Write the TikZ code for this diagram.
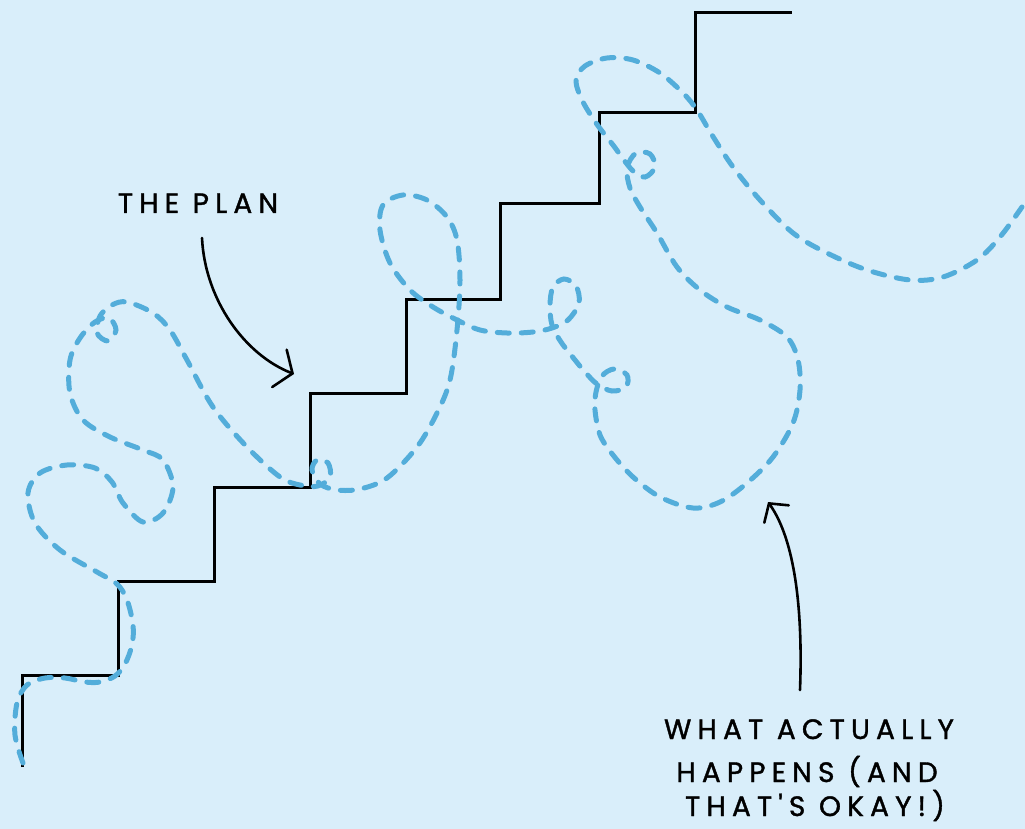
\documentclass[tikz,border=0pt]{standalone}
\usepackage{fontspec}
\newfontfamily\handfont[LetterSpace=22, FakeBold=1.3]{Poppins}
\usetikzlibrary{arrows.meta}
\definecolor{bgblue}{HTML}{D9EEFA}
\definecolor{dashblue}{HTML}{53ADDA}
\tikzset{
  stairline/.style={line width=3pt, black, line join=miter},
  wobble/.style={line width=5pt, dashblue, line cap=round, dash pattern=on 12pt off 12pt},
  pointer/.style={line width=2.6pt, black, line cap=round},
  handtext/.style={font=\handfont\fontsize{28}{38}\selectfont, inner sep=0pt, anchor=base}
}
\begin{document}
\begin{tikzpicture}[x=1pt,y=-1pt]
\useasboundingbox[fill=bgblue] (0,0) rectangle (1025,829);
% the plan: staircase
\draw[stairline] (22,767) |- (118,675) |- (214,581) |- (310,487) |- (406,393) |- (500,299) |- (599,204) |- (695,113) |- (792,13);
% what actually happens
\draw[wobble] plot[smooth, tension=0.55] coordinates {
 (23,763) (15,735) (17,703) (27,685) (45,678) (65,678) (85,682) (100,682) (115,676) (125,664) (132,645) (133,625) (127,600) (117,584)
 (97,572) (60,550) (35,523) (28,493) (40,473) (67,465) (95,468) (112,482) (123,503) (143,522) (163,513) (173,487) (163,460) (143,450)
 (110,437) (83,420) (70,393) (70,360) (80,338) (95,322) (109,318) (116,330) (108,341) (97,333) (100,316) (112,305) (127,302) (153,313) (170,330)
 (187,360) (213,407) (247,447) (280,477) (300,485) (318,486) (330,477) (328,463) (317,460) (312,470) (320,484) (337,490) (360,489)
 (387,478) (417,447) (437,413) (450,380) (457,330) (460,280) (457,240) (447,217) (427,200) (403,195) (383,205) (380,230) (390,263)
 (410,290) (433,307) (457,320) (480,330) (507,333) (533,332) (552,328) (568,320) (579,303) (576,286) (564,279) (553,287) (550,305)
 (552,325) (561,342) (575,360) (585,372) (597,384) (612,391) (626,387) (627,375) (614,369) (602,376) (596,392) (595,410) (600,435)
 (613,455) (633,477) (660,497) (693,508) (720,502) (747,483) (773,457) (793,423) (800,390) (798,360) (787,337) (760,320) (727,307)
 (700,290) (677,267) (657,233) (640,207) (630,188) (627,168) (636,153) (650,154) (655,167) (645,177) (632,170) (613,145) (596,123)
 (582,100) (576,80) (585,66) (607,58) (633,60) (660,73) (683,93) (697,110) (712,135) (733,167) (760,200) (793,233) (827,253)
 (867,270) (910,280) (943,277) (977,260) (1000,237) (1022,207)};
% labels
\node[handtext] (plan) at (198,213) {THE PLAN};
\node[handtext] (what1) at (809,739) {WHAT ACTUALLY};
\node[handtext] (what2) at (807,782) {HAPPENS (AND};
\node[handtext] (what3) at (815,816) {THAT'S OKAY!)};
% pointer arrows
\coordinate (planstart) at (202,238);
\coordinate (plantip) at (294,374);
\coordinate (whatstart) at (800,690);
\coordinate (whattip) at (768,502);
\draw[pointer, -{Straight Barb[length=14pt, width=40pt, line cap=round]}] (planstart) .. controls (205,300) and (245,355) .. (plantip);
\draw[pointer, -{Straight Barb[length=13pt, width=30pt, line cap=round]}] (whatstart) .. controls (803,610) and (795,540) .. (whattip);
\end{tikzpicture}
\end{document}
